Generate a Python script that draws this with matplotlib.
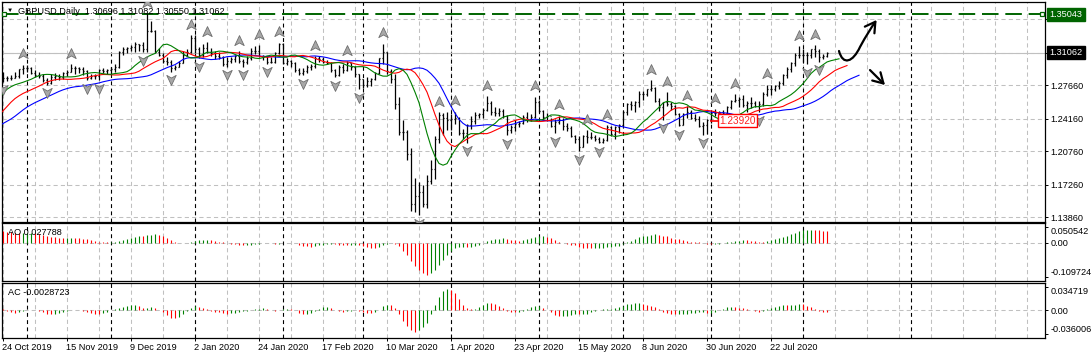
import numpy as np
import pandas as pd
import matplotlib
matplotlib.use("Agg")
import matplotlib.pyplot as plt
import matplotlib.transforms as mtransforms
from matplotlib.collections import LineCollection
from matplotlib.patches import FancyArrowPatch
from matplotlib.path import Path

plt.rcParams['font.family'] = ['Liberation Sans', 'DejaVu Sans']
FS = 6.6

# GBPUSD daily bars, 2 Sep 2019 .. 11 Aug 2020 (first 38 bars are off-screen history for the indicators)
opens = [
    1.2160, 1.2095, 1.2060, 1.2215, 1.2330, 1.2290, 1.2355, 1.2355, 1.2330, 1.2340,
    1.2500, 1.2430, 1.2490, 1.2490, 1.2520, 1.2470, 1.2440, 1.2470, 1.2330, 1.2320,
    1.2290, 1.2295, 1.2305, 1.2330, 1.2340, 1.2330, 1.2290, 1.2210, 1.2220, 1.2440,
    1.2660, 1.2610, 1.2680, 1.2720, 1.2830, 1.2900, 1.2920, 1.2840,
    # Oct 24 ..
    1.2855, 1.2840, 1.2835, 1.2845, 1.2860, 1.2930,
    1.2945, 1.2940, 1.2895, 1.2875, 1.2860, 1.2815, 1.2785, 1.2855, 1.2860, 1.2850, 1.2895,
    1.2905, 1.2945, 1.2940, 1.2930, 1.2910, 1.2840, 1.2860, 1.2865, 1.2925, 1.2915,
    1.2925, 1.2935, 1.2950, 1.3115, 1.3140, 1.3150, 1.3160, 1.3190, 1.3180, 1.3140, 1.3330,
    1.3335, 1.3110, 1.3085, 1.3020, 1.3010, 1.2940, 1.2960, 1.3000, 1.3075, 1.3110,
    1.3260, 1.3140, 1.3080, 1.3150, 1.3110, 1.3100, 1.3070, 1.3060, 1.2990, 1.3020, 1.3040,
    1.3070, 1.3015, 1.3005, 1.3045, 1.3120, 1.3120, 1.3070, 1.3065, 1.3010, 1.3005, 1.3100,
    1.3200, 1.3000, 1.3015, 1.2995, 1.2925, 1.2895, 1.2915, 1.2950, 1.2965, 1.3050,
    1.3035, 1.3010, 1.2995, 1.2925, 1.2875, 1.2960, 1.2920, 1.2995, 1.2950, 1.2880,
    1.2825, 1.2770, 1.2810, 1.2830, 1.2890, 1.3045, 1.3110, 1.2910, 1.2825, 1.2565, 1.2280,
    1.2275, 1.2050, 1.1525, 1.1610, 1.1650, 1.1525, 1.1770, 1.1890, 1.2200, 1.2450, 1.2420,
    1.2405, 1.2410, 1.2420, 1.2265, 1.2270, 1.2345, 1.2390, 1.2455, 1.2465, 1.2505, 1.2575,
    1.2490, 1.2470, 1.2500, 1.2445, 1.2300, 1.2330, 1.2355, 1.2370, 1.2430, 1.2410, 1.2435,
    1.2590, 1.2500, 1.2430, 1.2440, 1.2340, 1.2380, 1.2400, 1.2335, 1.2320, 1.2235, 1.2205,
    1.2125, 1.2235, 1.2225, 1.2220, 1.2200, 1.2170, 1.2195, 1.2330, 1.2260, 1.2325,
    1.2345, 1.2490, 1.2565, 1.2560, 1.2585, 1.2670, 1.2670, 1.2725, 1.2740, 1.2600, 1.2540,
    1.2585, 1.2570, 1.2545, 1.2465, 1.2350, 1.2465, 1.2490, 1.2420, 1.2415, 1.2335, 1.2345,
    1.2400, 1.2475, 1.2475, 1.2480, 1.2475, 1.2540, 1.2605, 1.2610, 1.2620, 1.2555, 1.2580,
    1.2575, 1.2550, 1.2570, 1.2675, 1.2730, 1.2725, 1.2755, 1.2790, 1.2875, 1.2935, 1.2995, 1.3085,
    1.3085, 1.3075, 1.3085, 1.3140, 1.3120, 1.3055, 1.30696,
]
highs = [
    1.2170, 1.2125, 1.2230, 1.2350, 1.2345, 1.2385, 1.2385, 1.2370, 1.2380, 1.2530,
    1.2500, 1.2500, 1.2530, 1.2580, 1.2580, 1.2480, 1.2500, 1.2480, 1.2370, 1.2350,
    1.2330, 1.2340, 1.2340, 1.2410, 1.2370, 1.2345, 1.2300, 1.2250, 1.2450, 1.2710,
    1.2670, 1.2750, 1.2780, 1.2900, 1.2930, 1.2960, 1.2960, 1.2890,
    1.2900, 1.2865, 1.2875, 1.2905, 1.2935, 1.2977,
    1.2975, 1.2950, 1.2925, 1.2905, 1.2885, 1.2835, 1.2880, 1.2895, 1.2880, 1.2905, 1.2925,
    1.2985, 1.2965, 1.2955, 1.2950, 1.2925, 1.2885, 1.2885, 1.2935, 1.2945, 1.2935,
    1.2955, 1.2990, 1.3120, 1.3165, 1.3165, 1.3185, 1.3215, 1.3200, 1.3220, 1.3514,
    1.3430, 1.3340, 1.3150, 1.3100, 1.3060, 1.3030, 1.2980, 1.3015, 1.3120, 1.3145, 1.3285,
    1.3285, 1.3160, 1.3190, 1.3215, 1.3150, 1.3125, 1.3110, 1.3065, 1.3055, 1.3060, 1.3085,
    1.3120, 1.3040, 1.3070, 1.3150, 1.3175, 1.3180, 1.3085, 1.3070, 1.3060, 1.3110, 1.3210,
    1.3205, 1.3050, 1.3030, 1.3010, 1.2945, 1.2945, 1.2980, 1.2990, 1.3070, 1.3065,
    1.3060, 1.3030, 1.3005, 1.2935, 1.2975, 1.2985, 1.3015, 1.3000, 1.2965, 1.2885,
    1.2830, 1.2850, 1.2845, 1.2900, 1.3045, 1.3200, 1.3110, 1.2935, 1.2880, 1.2645, 1.2400,
    1.2300, 1.2110, 1.1800, 1.1750, 1.1720, 1.1830, 1.1980, 1.2230, 1.2485, 1.2475, 1.2480,
    1.2460, 1.2490, 1.2430, 1.2305, 1.2355, 1.2440, 1.2490, 1.2475, 1.2525, 1.2650, 1.2595,
    1.2540, 1.2530, 1.2515, 1.2455, 1.2345, 1.2405, 1.2390, 1.2450, 1.2485, 1.2460, 1.2645,
    1.2610, 1.2505, 1.2475, 1.2420, 1.2410, 1.2445, 1.2425, 1.2375, 1.2340, 1.2250, 1.2230,
    1.2245, 1.2295, 1.2275, 1.2250, 1.2225, 1.2210, 1.2345, 1.2335, 1.2335, 1.2365,
    1.2495, 1.2575, 1.2595, 1.2595, 1.2700, 1.2700, 1.2730, 1.2815, 1.2750, 1.2635, 1.2590,
    1.2690, 1.2590, 1.2560, 1.2475, 1.2470, 1.2545, 1.2510, 1.2465, 1.2440, 1.2385, 1.2415,
    1.2485, 1.2515, 1.2495, 1.2505, 1.2550, 1.2615, 1.2670, 1.2645, 1.2665, 1.2600, 1.2640,
    1.2605, 1.2600, 1.2690, 1.2770, 1.2765, 1.2765, 1.2810, 1.2885, 1.2950, 1.3010, 1.3105, 1.3170,
    1.3140, 1.3110, 1.3145, 1.3185, 1.3140, 1.3095, 1.31082,
]
lows = [
    1.2070, 1.1960, 1.2040, 1.2200, 1.2260, 1.2270, 1.2300, 1.2310, 1.2290, 1.2330,
    1.2410, 1.2420, 1.2440, 1.2450, 1.2460, 1.2410, 1.2410, 1.2310, 1.2290, 1.2270,
    1.2270, 1.2200, 1.2280, 1.2300, 1.2290, 1.2270, 1.2195, 1.2200, 1.2200, 1.2440,
    1.2580, 1.2590, 1.2610, 1.2680, 1.2790, 1.2850, 1.2820, 1.2820,
    1.2800, 1.2805, 1.2820, 1.2835, 1.2845, 1.2880,
    1.2900, 1.2880, 1.2855, 1.2835, 1.2800, 1.2770, 1.2775, 1.2820, 1.2820, 1.2830, 1.2860,
    1.2900, 1.2880, 1.2890, 1.2870, 1.2820, 1.2825, 1.2830, 1.2818, 1.2890, 1.2880,
    1.2885, 1.2900, 1.2945, 1.3085, 1.3100, 1.3120, 1.3115, 1.3120, 1.3110, 1.3110,
    1.3320, 1.3100, 1.3070, 1.3000, 1.2980, 1.2905, 1.2925, 1.2950, 1.2995, 1.3065, 1.3100,
    1.3100, 1.3050, 1.3060, 1.3100, 1.3070, 1.3040, 1.3040, 1.2965, 1.2960, 1.2995, 1.3010,
    1.3000, 1.2958, 1.2985, 1.3030, 1.3095, 1.3055, 1.3025, 1.2990, 1.2995, 1.3000, 1.3090,
    1.2985, 1.2975, 1.2960, 1.2905, 1.2875, 1.2870, 1.2890, 1.2925, 1.2945, 1.3010,
    1.3000, 1.2985, 1.2905, 1.2850, 1.2860, 1.2890, 1.2915, 1.2920, 1.2855, 1.2725,
    1.2735, 1.2750, 1.2760, 1.2815, 1.2880, 1.2990, 1.2880, 1.2790, 1.2520, 1.2250, 1.2190,
    1.1985, 1.1450, 1.1445, 1.1410, 1.1490, 1.1480, 1.1735, 1.1790, 1.2165, 1.2240, 1.2300,
    1.2300, 1.2355, 1.2240, 1.2205, 1.2165, 1.2310, 1.2360, 1.2420, 1.2425, 1.2495, 1.2455,
    1.2445, 1.2445, 1.2420, 1.2245, 1.2270, 1.2290, 1.2330, 1.2365, 1.2380, 1.2395, 1.2420,
    1.2480, 1.2405, 1.2390, 1.2325, 1.2265, 1.2355, 1.2300, 1.2290, 1.2220, 1.2160, 1.2075,
    1.2120, 1.2165, 1.2205, 1.2180, 1.2160, 1.2165, 1.2180, 1.2230, 1.2205, 1.2265,
    1.2335, 1.2455, 1.2505, 1.2490, 1.2540, 1.2615, 1.2655, 1.2700, 1.2585, 1.2495, 1.2405,
    1.2545, 1.2510, 1.2450, 1.2335, 1.2345, 1.2425, 1.2410, 1.2390, 1.2330, 1.2250, 1.2255,
    1.2370, 1.2440, 1.2460, 1.2445, 1.2460, 1.2520, 1.2590, 1.2535, 1.2540, 1.2480, 1.2530,
    1.2535, 1.2480, 1.2545, 1.2655, 1.2665, 1.2700, 1.2725, 1.2770, 1.2840, 1.2900, 1.2965, 1.3045,
    1.3005, 1.2985, 1.3050, 1.3060, 1.3010, 1.3040, 1.30550,
]
closes = [
    1.2095, 1.2060, 1.2215, 1.2330, 1.2290, 1.2355, 1.2355, 1.2330, 1.2340, 1.2500,
    1.2430, 1.2490, 1.2490, 1.2520, 1.2470, 1.2440, 1.2470, 1.2330, 1.2320, 1.2290,
    1.2295, 1.2305, 1.2330, 1.2340, 1.2330, 1.2290, 1.2210, 1.2220, 1.2440, 1.2660,
    1.2610, 1.2680, 1.2720, 1.2830, 1.2900, 1.2920, 1.2840, 1.2855,
    1.2840, 1.2835, 1.2845, 1.2860, 1.2930, 1.2945,
    1.2940, 1.2895, 1.2875, 1.2860, 1.2815, 1.2785, 1.2855, 1.2860, 1.2850, 1.2895, 1.2905,
    1.2945, 1.2940, 1.2930, 1.2910, 1.2840, 1.2860, 1.2865, 1.2925, 1.2915, 1.2925,
    1.2935, 1.2950, 1.3115, 1.3140, 1.3150, 1.3160, 1.3190, 1.3180, 1.3140, 1.3330,
    1.3335, 1.3110, 1.3085, 1.3020, 1.3010, 1.2940, 1.2960, 1.3000, 1.3075, 1.3110, 1.3260,
    1.3140, 1.3080, 1.3150, 1.3110, 1.3100, 1.3070, 1.3060, 1.2990, 1.3020, 1.3040, 1.3070,
    1.3015, 1.3005, 1.3045, 1.3120, 1.3120, 1.3070, 1.3065, 1.3010, 1.3005, 1.3100, 1.3200,
    1.3000, 1.3015, 1.2995, 1.2925, 1.2895, 1.2915, 1.2950, 1.2965, 1.3050, 1.3035,
    1.3010, 1.2995, 1.2925, 1.2875, 1.2960, 1.2920, 1.2995, 1.2950, 1.2880, 1.2825,
    1.2770, 1.2810, 1.2830, 1.2890, 1.3045, 1.3110, 1.2910, 1.2825, 1.2565, 1.2280, 1.2275,
    1.2050, 1.1525, 1.1610, 1.1650, 1.1525, 1.1770, 1.1890, 1.2200, 1.2450, 1.2420, 1.2405,
    1.2410, 1.2420, 1.2265, 1.2270, 1.2345, 1.2390, 1.2455, 1.2465, 1.2505, 1.2575, 1.2490,
    1.2470, 1.2500, 1.2445, 1.2300, 1.2330, 1.2355, 1.2370, 1.2430, 1.2410, 1.2435, 1.2590,
    1.2500, 1.2430, 1.2440, 1.2340, 1.2380, 1.2400, 1.2335, 1.2320, 1.2235, 1.2205, 1.2125,
    1.2235, 1.2225, 1.2220, 1.2200, 1.2170, 1.2195, 1.2330, 1.2260, 1.2325, 1.2345,
    1.2490, 1.2565, 1.2560, 1.2585, 1.2670, 1.2670, 1.2725, 1.2740, 1.2600, 1.2540, 1.2585,
    1.2570, 1.2545, 1.2465, 1.2350, 1.2465, 1.2490, 1.2420, 1.2415, 1.2335, 1.2345, 1.2400,
    1.2475, 1.2475, 1.2480, 1.2475, 1.2540, 1.2605, 1.2610, 1.2620, 1.2555, 1.2580, 1.2575,
    1.2550, 1.2570, 1.2675, 1.2730, 1.2725, 1.2755, 1.2790, 1.2875, 1.2935, 1.2995, 1.3085, 1.3085,
    1.3075, 1.3085, 1.3140, 1.3120, 1.3055, 1.3070, 1.31062,
]

holidays = ['2019-12-25', '2020-01-01']
first_shown = '2019-10-24'
date_ticks = ['2019-10-24', '2019-11-15', '2019-12-09', '2020-01-02', '2020-01-24', '2020-02-17',
              '2020-03-10', '2020-04-01', '2020-04-23', '2020-05-15', '2020-06-08', '2020-06-30',
              '2020-07-22']
next_month = '2020-09-01'

price_ticks = [1.1386, 1.1726, 1.2076, 1.2416, 1.2766, 1.3106, 1.3456]
level_line = 1.35043
bid = 1.31062
mark_price = 1.2392
ao_labels = [0.050542, 0.0, -0.109724]
ac_labels = [0.034719, 0.0, -0.036006]
title = 'GBPUSD,Daily  1.30696 1.31082 1.30550 1.31062'
ao_title = 'AO 0.027788'
ac_title = 'AC -0.0028723'

# ---------------------------------------------------------------
dates = pd.bdate_range('2019-09-02', '2020-08-11')
dates = dates[~dates.isin(pd.to_datetime(holidays))]
o, h, l, c = (np.array(v) for v in (opens, highs, lows, closes))
x = np.arange(len(dates)) - dates.get_loc(pd.Timestamp(first_shown))

med = (h + l) / 2


def smma(src, n):
    out = np.full(len(src), np.nan)
    out[n - 1] = src[:n].mean()
    for i in range(n, len(src)):
        out[i] = (out[i - 1] * (n - 1) + src[i]) / n
    return out


jaw, teeth, lips = smma(med, 13), smma(med, 8), smma(med, 5)
s = pd.Series(med)
ao = (s.rolling(5).mean() - s.rolling(34).mean()).values
ac = ao - pd.Series(ao).rolling(5).mean().values


def updown_colors(v):
    d = np.diff(v, prepend=np.nan)
    return np.where(d > 0, '#008000', '#ff0000')


W, H = 1091, 353
fig = plt.figure(figsize=(W / 100, H / 100), dpi=100)


def box(x0, y0, x1, y1):
    return [x0 / W, 1 - y1 / H, (x1 - x0) / W, (y1 - y0) / H]


ax = fig.add_axes(box(2, 2, 1045, 221.5))
ax_ao = fig.add_axes(box(2, 223, 1045, 281))
ax_ac = fig.add_axes(box(2, 283, 1045, 338))

grid_kw = dict(color='#c0c0c0', lw=0.75, ls=(0, (4, 3)), zorder=0)
sep_kw = dict(color='black', lw=0.8, ls=(0, (3.5, 3)), zorder=1)

month_starts = x[1:][dates[1:].month != dates[:-1].month]
month_starts = np.append(month_starts, x[-1] + (pd.Timestamp(next_month) - dates[-1]).days)

for a in (ax, ax_ao, ax_ac):
    a.set_xlim(-0.25, 260.5)
    for gx in range(0, 261, 8):
        a.axvline(gx, **grid_kw)
    for mx in month_starts:
        a.axvline(mx, **sep_kw)
    for sp in a.spines.values():
        sp.set_color('black')
        sp.set_linewidth(0.9)
    a.tick_params(axis='y', left=False, labelleft=False, right=True, labelright=True,
                  direction='out', length=2.2, width=0.7, pad=2, labelsize=FS)
    a.tick_params(axis='x', bottom=False, labelbottom=False)

# main price panel
ax.set_ylim(1.13422, 1.36334)
for py in price_ticks:
    ax.axhline(py, **grid_kw)
ax.set_yticks(price_ticks)
ax.set_yticklabels(['' if abs(p - bid) < 0.001 else f'{p:.5f}' for p in price_ticks])
ax.axhline(bid, color='#c0c0c0', lw=0.8, zorder=1)

segs = []
for xi, oi, hi, li, ci in zip(x, o, h, l, c):
    segs += [[(xi, li), (xi, hi)], [(xi - 0.35, oi), (xi, oi)], [(xi, ci), (xi + 0.35, ci)]]
ax.add_collection(LineCollection(segs, colors='black', linewidths=0.9, zorder=3))

ax.plot(x + 8, jaw, color='#0000ff', lw=0.8, zorder=4)
ax.plot(x + 5, teeth, color='#ff0000', lw=0.8, zorder=4)
ax.plot(x + 3, lips, color='#008000', lw=0.8, zorder=4)

# fractals
up_path = Path([(0, 1), (0.8, -0.7), (0, -0.25), (-0.8, -0.7), (0, 1)],
               [Path.MOVETO, Path.LINETO, Path.LINETO, Path.LINETO, Path.CLOSEPOLY])
dn_path = Path([(vx, -vy) for vx, vy in up_path.vertices], up_path.codes)
up_idx = [i for i in range(2, len(h) - 2)
          if h[i] > max(h[i - 2], h[i - 1]) and h[i] >= max(h[i + 1], h[i + 2])]
dn_idx = [i for i in range(2, len(l) - 2)
          if l[i] < min(l[i - 2], l[i - 1]) and l[i] <= min(l[i + 1], l[i + 2])]
up_tr = ax.transData + mtransforms.ScaledTranslation(0, 7.5 / 72, fig.dpi_scale_trans)
dn_tr = ax.transData + mtransforms.ScaledTranslation(0, -5.5 / 72, fig.dpi_scale_trans)
frac_kw = dict(ls='none', ms=8.5, mfc='#a8a8a8', mec='#6e6e6e', mew=0.6, zorder=5)
ax.plot(x[up_idx], h[up_idx], marker=up_path, transform=up_tr, **frac_kw)
ax.plot(x[dn_idx], l[dn_idx], marker=dn_path, transform=dn_tr, **frac_kw)

# horizontal level line with its handles
ax.axhline(level_line, color='#006400', lw=1.4, dashes=(8.5, 3.5), zorder=2)
ax.plot([0.3, 259.8], [level_line, level_line], ls='none', marker='s', ms=3.5,
        mfc='white', mec='#006400', mew=0.9, zorder=6, clip_on=False)

# price label boxes on the right scale
rt = mtransforms.blended_transform_factory(fig.transFigure, ax.transData)
ax.text(1049.5 / W, level_line, f'{level_line:.5f}', transform=rt, color='white', fontsize=FS,
        va='center', ha='left', zorder=10, clip_on=False,
        bbox=dict(boxstyle='square,pad=0.25', fc='#006400', ec='#006400'))
ax.text(1049.5 / W, bid, f'{bid:.5f}', transform=rt, color='white', fontsize=FS,
        va='center', ha='left', zorder=10, clip_on=False,
        bbox=dict(boxstyle='square,pad=0.25', fc='black', ec='black'))

# price mark on the chart
mark_x = x[dates.get_loc(pd.Timestamp('2020-07-01'))]
ax.plot([mark_x, mark_x + 1.9], [mark_price, mark_price], color='#ff0000', lw=1.2, zorder=6)
ax.text(mark_x + 2.1, mark_price, f'{mark_price:.5f}', color='#ff2020', fontsize=7.2,
        va='center', ha='left', zorder=7,
        bbox=dict(boxstyle='square,pad=0.15', fc='white', ec='#ff0000', lw=1))

# hand-drawn arrows
curve = Path([(209.0, 1.3122), (210.0, 1.2965), (212.5, 1.3007), (214.25, 1.3164),
              (215.75, 1.3279), (217.0, 1.3362), (218.4, 1.3446)],
             [Path.MOVETO, Path.CURVE4, Path.CURVE4, Path.CURVE4,
              Path.CURVE4, Path.CURVE4, Path.CURVE4])
ax.add_patch(FancyArrowPatch(path=curve, arrowstyle='->,head_length=0.6,head_width=0.35',
                             mutation_scale=12, color='black', lw=1.6, zorder=8))
ax.add_patch(FancyArrowPatch((216.75, 1.2923), (220.5, 1.2767),
                             arrowstyle='->,head_length=0.6,head_width=0.35',
                             mutation_scale=12, color='black', lw=1.6, zorder=8,
                             shrinkA=0, shrinkB=0))

# AO / AC histograms
for a, vals, labs in ((ax_ao, ao, ao_labels), (ax_ac, ac, ac_labels)):
    hi_v, lo_v = labs[0], labs[2]
    span = hi_v - lo_v
    a.set_ylim(lo_v - span * 0.085, hi_v + span * 0.085)
    a.axhline(0, **grid_kw)
    a.vlines(x, 0, vals, colors=updown_colors(vals), lw=0.8, zorder=3)
    a.set_yticks(labs)
    a.set_yticklabels(['0.00' if v == 0 else f'{v:.6f}' for v in labs])
    tl = a.get_yticklabels()
    tl[0].set_va('top')
    tl[2].set_va('bottom')

# date axis
tick_x = [x[dates.get_loc(pd.Timestamp(d))] for d in date_ticks]
tick_txt = [f'{pd.Timestamp(d).day} {pd.Timestamp(d):%b %Y}' for d in date_ticks]
ax_ac.tick_params(axis='x', bottom=True, labelbottom=True, direction='out', length=2.5,
                  width=0.7, pad=1.2, labelsize=FS)
ax_ac.set_xticks(tick_x)
ax_ac.set_xticklabels(tick_txt)
shift = mtransforms.ScaledTranslation(-0.5 / 72, 0, fig.dpi_scale_trans)
for lab in ax_ac.get_xticklabels():
    lab.set_ha('left')
    lab.set_transform(lab.get_transform() + shift)

# panel titles
fig.text(7 / W, 1 - 10.5 / H, '\u25bc', fontsize=4.5, va='center', ha='left')
fig.text(18 / W, 1 - 11 / H, title, fontsize=FS, va='center', ha='left')
fig.text(7.5 / W, 1 - 232.5 / H, ao_title, fontsize=FS, va='center', ha='left')
fig.text(7.5 / W, 1 - 292.5 / H, ac_title, fontsize=FS, va='center', ha='left')

fig.savefig('out.png', dpi=100)
